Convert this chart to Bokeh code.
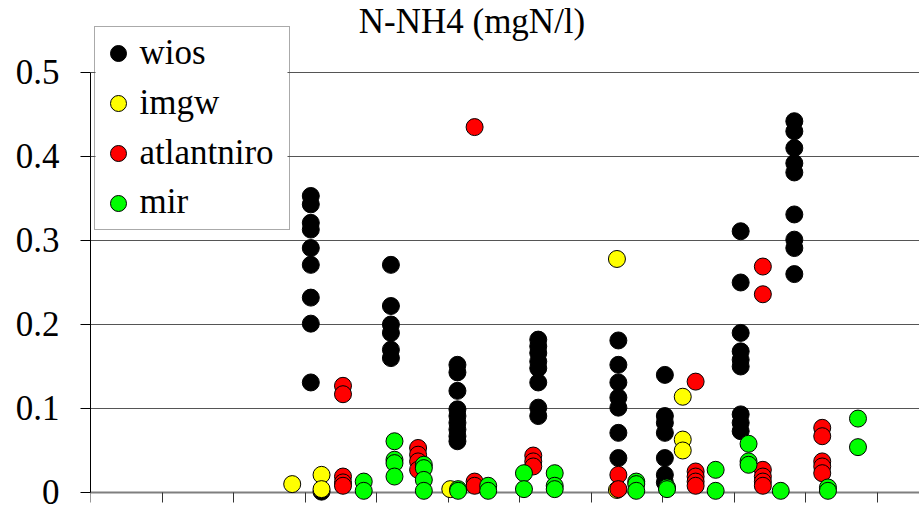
from bokeh.plotting import figure
from bokeh.models import Range1d, FixedTicker, Legend, LegendItem, Label, BoxAnnotation
from bokeh.embed import file_html
from bokeh.resources import INLINE

title_text = "N-NH4 (mgN/l)"
series_names = ["wios", "imgw", "atlantniro", "mir"]
series_colors = ["#000000", "#FFFF00", "#FF0000", "#00FF00"]
y_ticks = [0, 0.1, 0.2, 0.3, 0.4, 0.5]
y_tick_labels = ["0", "0.1", "0.2", "0.3", "0.4", "0.5"]
x_ticks = list(range(0, 12))

wios_x = [3.08] * 9 + [3.23] + [4.20] * 6 + [5.13] * 9 + [6.26] * 8 + [7.38] * 7 + [8.03] * 7 + [9.09] * 9 + [9.84] * 9
wios_y = [0.353, 0.343, 0.321, 0.313, 0.291, 0.271, 0.232, 0.201, 0.131,
          0.001,
          0.271, 0.222, 0.200, 0.190, 0.170, 0.160,
          0.152, 0.143, 0.121, 0.099, 0.091, 0.083, 0.075, 0.067, 0.061,
          0.182, 0.174, 0.166, 0.156, 0.148, 0.131, 0.101, 0.091,
          0.181, 0.152, 0.131, 0.113, 0.101, 0.071, 0.041,
          0.140, 0.091, 0.083, 0.071, 0.041, 0.021, 0.012,
          0.311, 0.250, 0.190, 0.168, 0.158, 0.150, 0.093, 0.083, 0.073,
          0.442, 0.430, 0.410, 0.392, 0.381, 0.331, 0.301, 0.291, 0.260]

imgw_x = [2.82, 3.23, 3.23, 5.03, 7.36, 7.36, 8.28, 8.28, 8.28]
imgw_y = [0.010, 0.021, 0.004, 0.004, 0.278, 0.003, 0.114, 0.063, 0.050]

atlantniro_x = [3.53] * 5 + [4.58] * 4 + [5.37] * 3 + [6.19] * 3 + [7.38] * 2 + [8.46] * 5 + [9.40] * 6 + [10.23] * 5
atlantniro_y = [0.127, 0.117, 0.019, 0.012, 0.008,
                0.053, 0.045, 0.037, 0.027,
                0.435, 0.013, 0.008,
                0.044, 0.037, 0.031,
                0.021, 0.004,
                0.132, 0.025, 0.019, 0.013, 0.008,
                0.269, 0.236, 0.027, 0.019, 0.013, 0.008,
                0.077, 0.067, 0.037, 0.031, 0.023]

mir_x = ([3.82] * 2 + [4.25] * 4 + [4.66] * 4 + [5.14] * 2 + [5.56] * 2 + [6.06] * 2 + [6.49] * 3
         + [7.63] * 3 + [8.06] * 2 + [8.74] * 2 + [9.20] * 3 + [9.65] + [10.31] * 2 + [10.73] * 2)
mir_y = [0.013, 0.002,
         0.061, 0.039, 0.035, 0.019,
         0.033, 0.029, 0.015, 0.002,
         0.004, 0.002,
         0.008, 0.002,
         0.023, 0.004,
         0.023, 0.008, 0.004,
         0.013, 0.010, 0.002,
         0.006, 0.004,
         0.027, 0.002,
         0.058, 0.037, 0.033,
         0.002,
         0.006, 0.002,
         0.088, 0.054]

series_x = [wios_x, imgw_x, atlantniro_x, mir_x]
series_y = [wios_y, imgw_y, atlantniro_y, mir_y]

FONT = "Times New Roman"

p = figure(width=919, height=508, output_backend="svg", toolbar_location=None,
           x_range=Range1d(0, 11.59), y_range=Range1d(-0.01905, 0.5857),
           min_border_left=90, min_border_right=0, min_border_top=0, min_border_bottom=0)
p.title.visible = False
p.outline_line_color = None
p.background_fill_color = "white"
p.border_fill_color = "white"

# y axis
yax = p.yaxis[0]
yax.ticker = FixedTicker(ticks=y_ticks)
yax.major_label_overrides = {t: s for t, s in zip(y_ticks, y_tick_labels)}
yax.bounds = (0, 0.5)
yax.major_tick_out = 10
yax.major_tick_in = 0
yax.minor_tick_out = 0
yax.minor_tick_in = 0
yax.axis_line_color = "black"
yax.major_tick_line_color = "black"
yax.major_label_standoff = 21
yax.major_label_text_font = FONT
yax.major_label_text_font_size = "35px"
yax.major_label_text_color = "black"

# x axis at y = 0
xax = p.xaxis[0]
xax.fixed_location = 0
xax.ticker = FixedTicker(ticks=x_ticks)
xax.major_label_overrides = {t: "" for t in x_ticks}
xax.major_tick_out = 10
xax.major_tick_in = 0
xax.minor_tick_out = 0
xax.minor_tick_in = 0
xax.axis_line_color = "#7f7f7f"
xax.axis_line_width = 2
xax.major_tick_line_color = "#333333"
xax.level = "underlay"

p.xgrid.visible = False
p.ygrid.ticker = FixedTicker(ticks=y_ticks[1:])
p.ygrid.grid_line_color = "#555555"
p.ygrid.grid_line_width = 1

# white backing of the legend box (hides gridlines behind the legend)
p.add_layout(BoxAnnotation(left=95, right=287, top=39, bottom=199,
                           left_units="canvas", right_units="canvas",
                           top_units="canvas", bottom_units="canvas",
                           fill_color="white", fill_alpha=1.0, line_color=None,
                           level="glyph"))

renderers = []
for name, xs, ys, color in zip(series_names, series_x, series_y, series_colors):
    r = p.scatter(xs, ys, size=17, fill_color=color, line_color="black", line_width=1)
    renderers.append(r)

# legend box and swatches (Bokeh Legend); label texts drawn as serif Labels
legend = Legend(items=[LegendItem(label="", renderers=[r]) for r in renderers],
                location=(4, 278), margin=0, padding=3, spacing=4,
                label_height=46, glyph_height=46, glyph_width=40, label_standoff=0,
                label_width=148,
                label_text_font=FONT, label_text_font_size="35px", label_text_color="black",
                border_line_color="#555555", border_line_width=1,
                background_fill_color="white", background_fill_alpha=0.0)
p.add_layout(legend)

legend_baselines = [65.7, 115.5, 165.7, 214.5]
for name, base in zip(series_names, legend_baselines):
    p.add_layout(Label(x=49, y=521.5 - base, x_units="screen", y_units="screen", text=name,
                       text_align="left", text_baseline="alphabetic", level="overlay",
                       text_font=FONT, text_font_size="35px", text_color="black"))

title = Label(x=381.5, y=487, x_units="screen", y_units="screen", text=title_text,
              text_align="center", text_baseline="alphabetic", level="overlay",
              text_font=FONT, text_font_size="35px", text_color="black")
p.add_layout(title)

open("out.html", "w").write(file_html(p, INLINE))
